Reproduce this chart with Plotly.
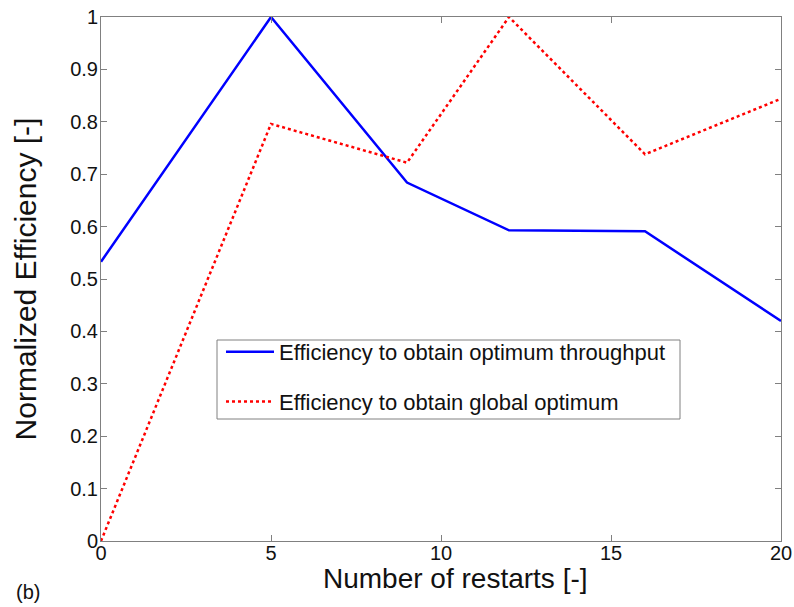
import plotly.graph_objects as go

restarts = [0, 5, 9, 12, 16, 20]
eff_throughput = [0.533, 1.0, 0.684, 0.593, 0.591, 0.42]
eff_global = [0.0, 0.796, 0.722, 1.0, 0.738, 0.844]
names = ["Efficiency to obtain optimum throughput", "Efficiency to obtain global optimum"]
x_title = "Number of restarts [-]"
y_title = "Normalized Efficiency [-]"

FONT = "Arial, Liberation Sans, sans-serif"

# page-pixel geometry of the plot area
PL, PR, PT, PB = 101, 781, 17, 541
W, H = 794, 607


def px(x):
    return (x - PL) / (PR - PL)


def py(y):
    return (PB - y) / (PB - PT)


fig = go.Figure()
fig.add_trace(go.Scatter(x=restarts, y=eff_throughput, mode="lines", name=names[0],
                         legendgroup="a", line=dict(color="#0000ff", width=2.5)))
fig.add_trace(go.Scatter(x=restarts, y=eff_global, mode="lines", name=names[1],
                         legendgroup="b", line=dict(color="#ff0000", width=2.5, dash="dot")))

axis_common = dict(showline=True, linecolor="#808080", linewidth=1, mirror="ticks",
                   ticks="inside", ticklen=6, tickcolor="#808080", showgrid=False,
                   zeroline=False, automargin=False,
                   tickfont=dict(family=FONT, size=20, color="#111"))

fig.update_xaxes(range=[0, 20], dtick=5, tick0=0, ticklabelstandoff=-6, **axis_common)
fig.update_yaxes(range=[0, 1], dtick=0.1, tick0=0, ticklabelstandoff=-2,
                 title=dict(text=y_title, font=dict(family=FONT, size=30, color="#111"), standoff=24),
                 **axis_common)

fig.update_layout(
    width=W, height=H,
    margin=dict(l=PL, r=W - PR, t=PT, b=H - PB, autoexpand=False),
    plot_bgcolor="white", paper_bgcolor="white",
    showlegend=True,
    legend=dict(x=px(221), y=py(331), xanchor="left", yanchor="top",
                borderwidth=0, bgcolor="rgba(0,0,0,0)",
                font=dict(family=FONT, size=22, color="#111"),
                itemwidth=48, tracegroupgap=18),
    shapes=[dict(type="rect", xref="paper", yref="paper",
                 x0=px(217), x1=px(680), y0=py(419), y1=py(340),
                 line=dict(color="#808080", width=1), fillcolor="white", layer="above")],
    annotations=[
        dict(text=x_title, xref="paper", yref="paper", x=px(455), y=py(578),
             xanchor="center", yanchor="middle", showarrow=False,
             font=dict(family=FONT, size=28, color="#111")),
        dict(text="(b)", xref="paper", yref="paper", x=px(14), y=py(592),
             xanchor="left", yanchor="middle", showarrow=False,
             font=dict(family=FONT, size=20, color="#111")),
    ],
)

fig.write_html("out.html", config={"displayModeBar": False},
               post_script="document.body.style.margin='0';document.body.style.overflow='hidden';")
